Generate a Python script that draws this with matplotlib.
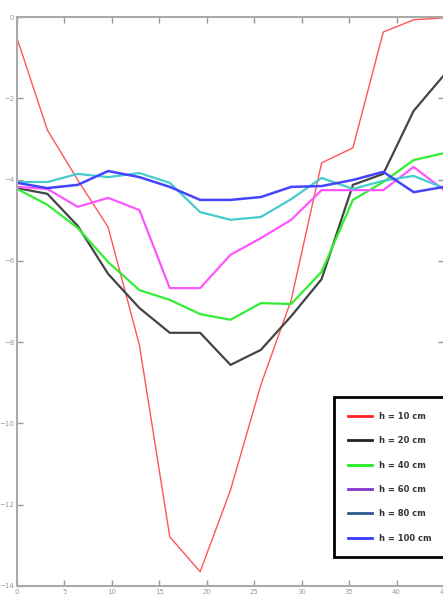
import matplotlib
matplotlib.use("Agg")
import matplotlib.pyplot as plt
from matplotlib.lines import Line2D

# Sample positions along the x axis (15 readings)
x = [0, 3.2, 6.4, 9.6, 12.9, 16.1, 19.3, 22.5, 25.7, 28.9, 32.1, 35.4, 38.6, 41.8, 45]

# Values per depth
h10 = [-0.52, -2.78, -4.01, -5.17, -8.07, -12.79, -13.65, -11.64, -9.05, -6.96,
       -3.59, -3.22, -0.37, -0.07, -0.02]
h20 = [-4.21, -4.35, -5.14, -6.32, -7.16, -7.77, -7.77, -8.56, -8.19, -7.36,
       -6.45, -4.13, -3.86, -2.31, -1.43]
h40 = [-4.23, -4.62, -5.19, -6.03, -6.72, -6.96, -7.31, -7.45, -7.04, -7.06,
       -6.27, -4.50, -4.06, -3.52, -3.35]
h60 = [-4.18, -4.23, -4.67, -4.45, -4.75, -6.67, -6.67, -5.85, -5.44, -4.99,
       -4.26, -4.26, -4.26, -3.69, -4.26]
h80 = [-4.06, -4.06, -3.86, -3.94, -3.84, -4.08, -4.80, -4.99, -4.92, -4.48,
       -3.96, -4.23, -4.03, -3.91, -4.21]
h100 = [-4.08, -4.21, -4.13, -3.79, -3.94, -4.18, -4.50, -4.50, -4.43, -4.18,
        -4.16, -4.01, -3.81, -4.31, -4.18]

labels = ["h = 10 cm", "h = 20 cm", "h = 40 cm", "h = 60 cm", "h = 80 cm", "h = 100 cm"]
xticks = [0, 5, 10, 15, 20, 25, 30, 35, 40, 45]
yticks = [0, -2, -4, -6, -8, -10, -12, -14]

# colours of the plotted lines and of the legend swatches (they differ in the original)
line_colors = ["#ff5555", "#444444", "#33ee33", "#ff55ff", "#44cccc", "#4444ff"]
legend_colors = ["#ff2222", "#222222", "#22ee22", "#8833cc", "#2a5d8f", "#3a3aff"]
widths = [1.0, 1.6, 1.6, 1.6, 1.6, 1.8]

fig = plt.figure(figsize=(4.43, 5.99), dpi=100)
ax = fig.add_axes([17 / 443, 13 / 599, 427 / 443, 569 / 599])

series = [h10, h20, h40, h60, h80, h100]
for ys, c, w in zip(series, line_colors, widths):
    ax.plot(x, ys, color=c, linewidth=w)

ax.set_xlim(0, 45)
ax.set_ylim(-14, 0)
ax.set_xticks(xticks)
ax.set_yticks(yticks)
ax.tick_params(direction="in", top=True, right=True, length=4, width=1,
               color="#999999", labelcolor="#999999", labelsize=5, pad=2)
for s in ax.spines.values():
    s.set_color("#aaaaaa")
    s.set_linewidth(1.5)

# legend box sits in the lower right corner
handles = [Line2D([0], [0], color=c, linewidth=2) for c in legend_colors]
leg = ax.legend(handles, labels, loc="upper left", bbox_to_anchor=(0.742, 0.332),
                fontsize=6, handlelength=2.8, handletextpad=0.9, labelspacing=1.85,
                borderpad=1.75, fancybox=False, framealpha=1, borderaxespad=0)
leg.get_frame().set_edgecolor("black")
leg.get_frame().set_linewidth(2)
for t in leg.get_texts():
    t.set_fontweight("bold")
    t.set_color("#333333")

fig.savefig("out.png", dpi=100)
